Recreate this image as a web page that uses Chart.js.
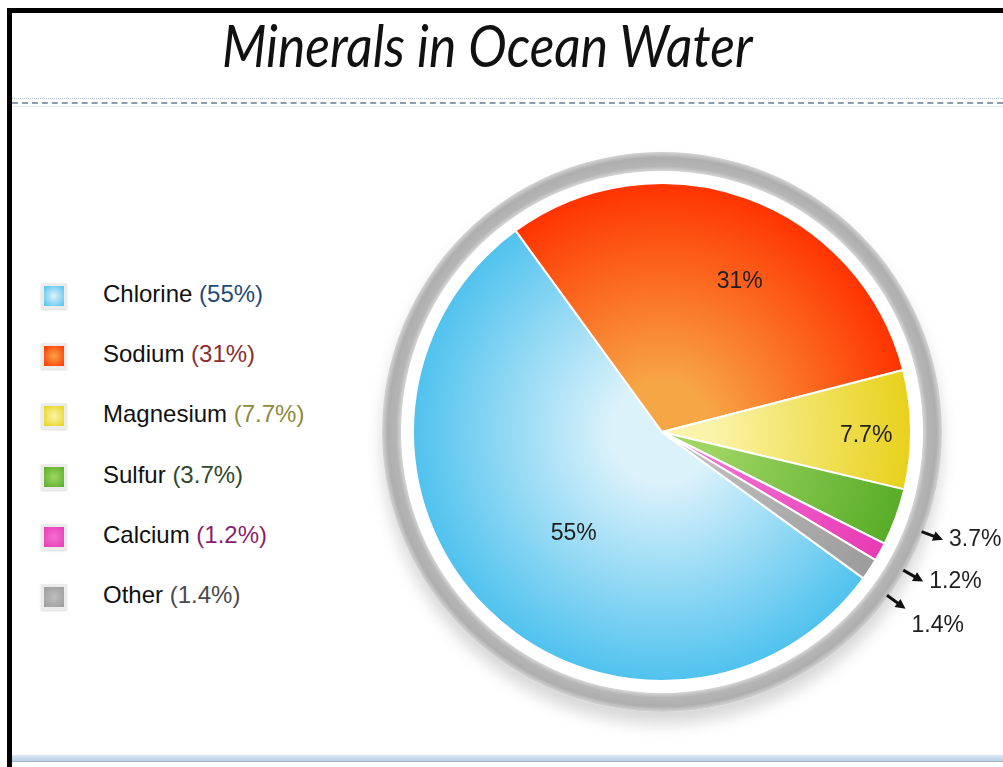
<!DOCTYPE html>
<html>
<head>
<meta charset="utf-8">
<script src="https://cdn.jsdelivr.net/npm/chart.js@4.4.1/dist/chart.umd.min.js"></script>
<style>
  html, body { margin: 0; padding: 0; background: #fff; }
  body { width: 1003px; height: 767px; position: relative; overflow: hidden; font-family: "Liberation Sans", Arial, sans-serif; }
  #frame { position: absolute; left: 7px; top: 8px; width: 1100px; height: 800px; border-left: 5px solid #000; border-top: 5px solid #000; }
  #title { position: absolute; top: 10px; left: 0; width: 974px; text-align: center; font-family: Lato, "Open Sans", sans-serif; font-style: italic; font-size: 59px; line-height: 70px; color: #111; white-space: nowrap; }
  #title span { display: inline-block; transform-origin: center; }
  .rule1 { position: absolute; left: 12px; right: 0; top: 98px; border-top: 1px dotted #b4c0cc; }
  .rule2 { position: absolute; left: 12px; right: 0; top: 102px; border-top: 2px dashed #8d9db0; }
  .rule3 { position: absolute; left: 12px; right: 0; top: 106px; border-top: 1px solid #e2eaf2; }
  .bottom { position: absolute; left: 12px; right: 0; top: 755px; height: 6px; background: linear-gradient(#dae7f3, #bccfe2); border-bottom: 1px solid #a5b5c6; }
  #legend { position: absolute; left: 0; top: 0; }
  .row { position: absolute; left: 0; height: 30px; width: 320px; }
  .box { position: absolute; left: 41px; top: 2px; width: 20px; height: 20px; border: 3px solid #ececec; box-shadow: 0 1px 2px rgba(0,0,0,0.15); }
  .txt { position: absolute; left: 103px; top: 0; font-size: 24px; line-height: 26px; color: #111; white-space: nowrap; }
  #wrap { position: absolute; left: 362px; top: 132px; width: 641px; height: 620px; }
</style>
</head>
<body>
<div id="frame"></div>
<div id="title"><span>Minerals in Ocean Water</span></div>
<div class="rule1"></div>
<div class="rule2"></div>
<div class="rule3"></div>
<div class="bottom"></div>
<div id="legend"></div>
<div id="wrap"><canvas id="pie" width="641" height="620" style="width:641px;height:620px"></canvas></div>
<script>
// data
const labels = ["Chlorine", "Sodium", "Magnesium", "Sulfur", "Calcium", "Other"];
const values = [55, 31, 7.7, 3.7, 1.2, 1.4];

// styles
const innerColors = ["#dcf2fb", "#f7a646", "#faf4aa", "#9fd563", "#f370d3", "#bdbdbd"];
const outerColors = ["#50c2ee", "#ff3300", "#e8d11c", "#58ad28", "#e83ab5", "#9c9c9c"];
const legendPctColors = ["#254a78", "#8b2e2e", "#8f8a3a", "#2f4a2a", "#8a1f6e", "#4a4a4a"];
const insideRadius = [0.54, 0.68, 0.82];      // fraction of radius for big-slice labels
const labelNudge = [-4, 7.5, 1.5, 1, 1, 2.5]; // degrees off the slice middle
const outsideDy = [0, 0, 0, 0, 0, 17];

// title width: squeeze to the reference's narrow face
const t = document.querySelector("#title span");
t.style.transform = "scaleX(" + (530 / t.offsetWidth).toFixed(3) + ")";

// legend
const legend = document.getElementById("legend");
labels.forEach((name, i) => {
  const row = document.createElement("div");
  row.className = "row";
  row.style.top = (281 + i * 60.2) + "px";
  const box = document.createElement("div");
  box.className = "box";
  box.style.background = "radial-gradient(circle, " + innerColors[i] + " 0%, " + outerColors[i] + " 100%)";
  const txt = document.createElement("div");
  txt.className = "txt";
  txt.innerHTML = name + ' <span style="color:' + legendPctColors[i] + '">(' + values[i] + '%)</span>';
  row.appendChild(box);
  row.appendChild(txt);
  legend.appendChild(row);
});

function sliceFill(c) {
  const chart = c.chart;
  const area = chart.chartArea;
  const i = c.dataIndex;
  if (!area) return outerColors[i];
  const cx = (area.left + area.right) / 2;
  const cy = (area.top + area.bottom) / 2;
  const r = chart.options.radius;
  const g = chart.ctx.createRadialGradient(cx, cy, 0, cx, cy, r);
  g.addColorStop(0, innerColors[i]);
  g.addColorStop(0.2, innerColors[i]);
  g.addColorStop(1, outerColors[i]);
  return g;
}

const ringPlugin = {
  id: "ring",
  beforeDatasetsDraw(chart) {
    const { ctx } = chart;
    const arc = chart.getDatasetMeta(0).data[0];
    const cx = arc.x, cy = arc.y;
    const rOut = arc.outerRadius + 31;
    const rIn = arc.outerRadius + 12;

    // white disc with soft drop shadow, mostly below
    ctx.save();
    ctx.beginPath();
    ctx.arc(cx, cy, rOut, 0, 2 * Math.PI);
    ctx.fillStyle = "#fff";
    ctx.shadowColor = "rgba(0,0,0,0.16)";
    ctx.shadowBlur = 16;
    ctx.shadowOffsetY = 12;
    ctx.fill();
    ctx.restore();

    // gray ring
    ctx.save();
    const g = ctx.createRadialGradient(cx, cy, rIn, cx, cy, rOut);
    g.addColorStop(0, "#d6d6d6");
    g.addColorStop(0.25, "#b5b5b5");
    g.addColorStop(0.7, "#aeaeae");
    g.addColorStop(1, "#d4d4d4");
    ctx.beginPath();
    ctx.arc(cx, cy, rOut, 0, 2 * Math.PI);
    ctx.arc(cx, cy, rIn, 0, 2 * Math.PI, true);
    ctx.fillStyle = g;
    ctx.fill("evenodd");
    ctx.restore();
  }
};

const labelPlugin = {
  id: "sliceLabels",
  afterDatasetsDraw(chart) {
    const { ctx } = chart;
    const arcs = chart.getDatasetMeta(0).data;
    ctx.save();
    ctx.font = "23px 'Liberation Sans', Arial, sans-serif";
    ctx.strokeStyle = "#111";
    arcs.forEach((arc, i) => {
      const a = (arc.startAngle + arc.endAngle) / 2 + labelNudge[i] * Math.PI / 180;
      const text = values[i] + "%";
      ctx.fillStyle = "#1e1e1e";
      ctx.textBaseline = "middle";
      if (values[i] >= 5) {
        const r = arc.outerRadius * insideRadius[i];
        ctx.textAlign = "center";
        ctx.fillText(text, arc.x + Math.cos(a) * r, arc.y + Math.sin(a) * r);
      } else {
        const r0 = arc.outerRadius + 29, r1 = arc.outerRadius + 52;
        const x0 = arc.x + Math.cos(a) * r0, y0 = arc.y + Math.sin(a) * r0;
        const x1 = arc.x + Math.cos(a) * r1, y1 = arc.y + Math.sin(a) * r1;
        ctx.lineWidth = 3;
        ctx.beginPath();
        ctx.moveTo(x0, y0);
        ctx.lineTo(x1 - Math.cos(a) * 6, y1 - Math.sin(a) * 6);
        ctx.stroke();
        // head
        ctx.beginPath();
        ctx.moveTo(x1, y1);
        ctx.lineTo(x1 - Math.cos(a) * 10 - Math.sin(a) * 5, y1 - Math.sin(a) * 10 + Math.cos(a) * 5);
        ctx.lineTo(x1 - Math.cos(a) * 10 + Math.sin(a) * 5, y1 - Math.sin(a) * 10 - Math.cos(a) * 5);
        ctx.closePath();
        ctx.fillStyle = "#111";
        ctx.fill();
        ctx.fillStyle = "#1e1e1e";
        ctx.textAlign = "left";
        ctx.fillText(text, x1 + 6, y1 + outsideDy[i]);
      }
    });
    ctx.restore();
  }
};

new Chart(document.getElementById("pie"), {
  type: "pie",
  data: {
    labels: labels,
    datasets: [{
      data: values,
      backgroundColor: sliceFill,
      borderColor: "#fff",
      borderWidth: 2
    }]
  },
  options: {
    responsive: false,
    animation: false,
    rotation: 126,
    radius: 249,
    layout: { padding: { right: 41, bottom: 20 } },
    plugins: {
      legend: { display: false },
      tooltip: { enabled: false },
      title: { display: false }
    }
  },
  plugins: [ringPlugin, labelPlugin]
});
</script>
</body>
</html>
